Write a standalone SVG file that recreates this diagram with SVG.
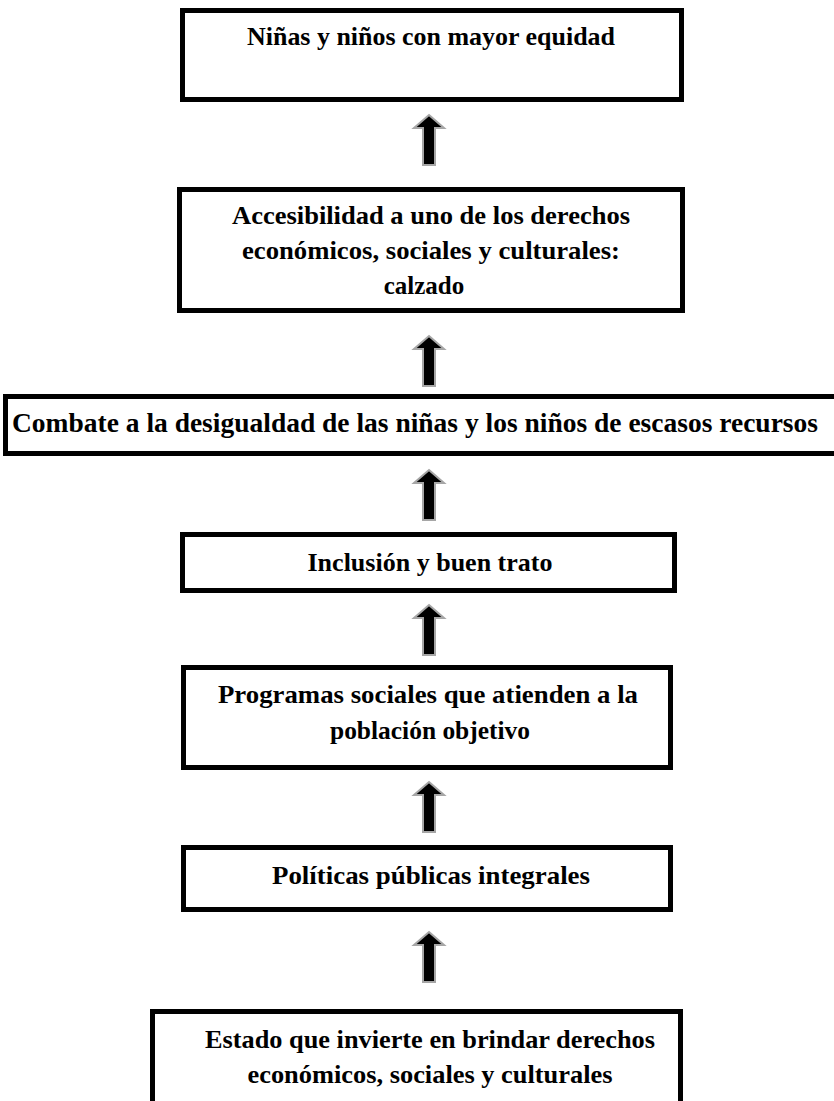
<svg xmlns="http://www.w3.org/2000/svg" width="834" height="1101" viewBox="0 0 834 1101">
<defs>
<style>
.box{fill:#fff;stroke:#000;stroke-width:5}
.t{font-family:"Liberation Serif","Times New Roman",serif;font-weight:bold;font-size:25px;fill:#000;text-anchor:middle}
.big{font-size:28px}
.arr{fill:#000;stroke:#a6a6a6;stroke-width:2;stroke-linejoin:miter}
</style>
<path id="ar" d="M0,0 L15,13 L6,13 L6,50 L-6,50 L-6,13 L-15,13 Z"/>
</defs>
<rect width="834" height="1101" fill="#fff"/>
<g id="connectors">
<use href="#ar" class="arr" x="429" y="115"/>
<use href="#ar" class="arr" x="429" y="336"/>
<use href="#ar" class="arr" x="429" y="470"/>
<use href="#ar" class="arr" x="429" y="605"/>
<use href="#ar" class="arr" x="429" y="782"/>
<use href="#ar" class="arr" x="429" y="932"/>
</g>
<g id="n1">
<rect class="box" x="182.5" y="10.5" width="499" height="89"/>
<text class="t" x="431" y="45" textLength="368" lengthAdjust="spacingAndGlyphs">Niñas y niños con mayor equidad</text>
</g>
<g id="n2">
<rect class="box" x="179.5" y="189.5" width="503" height="121"/>
<text class="t" x="431" y="224" textLength="398" lengthAdjust="spacingAndGlyphs">Accesibilidad a uno de los derechos</text>
<text class="t" x="431" y="259" textLength="378" lengthAdjust="spacingAndGlyphs">económicos, sociales y culturales:</text>
<text class="t" x="424" y="294">calzado</text>
</g>
<g id="n3">
<rect class="box" x="5.5" y="396.5" width="832" height="57"/>
<text class="t big" x="415" y="432" textLength="806" lengthAdjust="spacingAndGlyphs">Combate  a la desigualdad de las niñas y los niños de escasos recursos</text>
</g>
<g id="n4">
<rect class="box" x="182.5" y="534.5" width="492" height="56"/>
<text class="t" x="430" y="571" textLength="245" lengthAdjust="spacingAndGlyphs">Inclusión y buen trato</text>
</g>
<g id="n5">
<rect class="box" x="183.5" y="667.5" width="487" height="100"/>
<text class="t" x="428" y="703" textLength="420" lengthAdjust="spacingAndGlyphs">Programas sociales que atienden a la</text>
<text class="t" x="430" y="739" textLength="200" lengthAdjust="spacingAndGlyphs">población  objetivo</text>
</g>
<g id="n6">
<rect class="box" x="183.5" y="847.5" width="487" height="62"/>
<text class="t" x="431" y="884" textLength="318" lengthAdjust="spacingAndGlyphs">Políticas públicas  integrales</text>
</g>
<g id="n7">
<rect class="box" x="152.5" y="1011.5" width="528" height="120"/>
<text class="t" x="430" y="1048" textLength="450" lengthAdjust="spacingAndGlyphs">Estado  que invierte en brindar  derechos</text>
<text class="t" x="430" y="1083" textLength="365" lengthAdjust="spacingAndGlyphs">económicos,  sociales y culturales</text>
</g>
</svg>
